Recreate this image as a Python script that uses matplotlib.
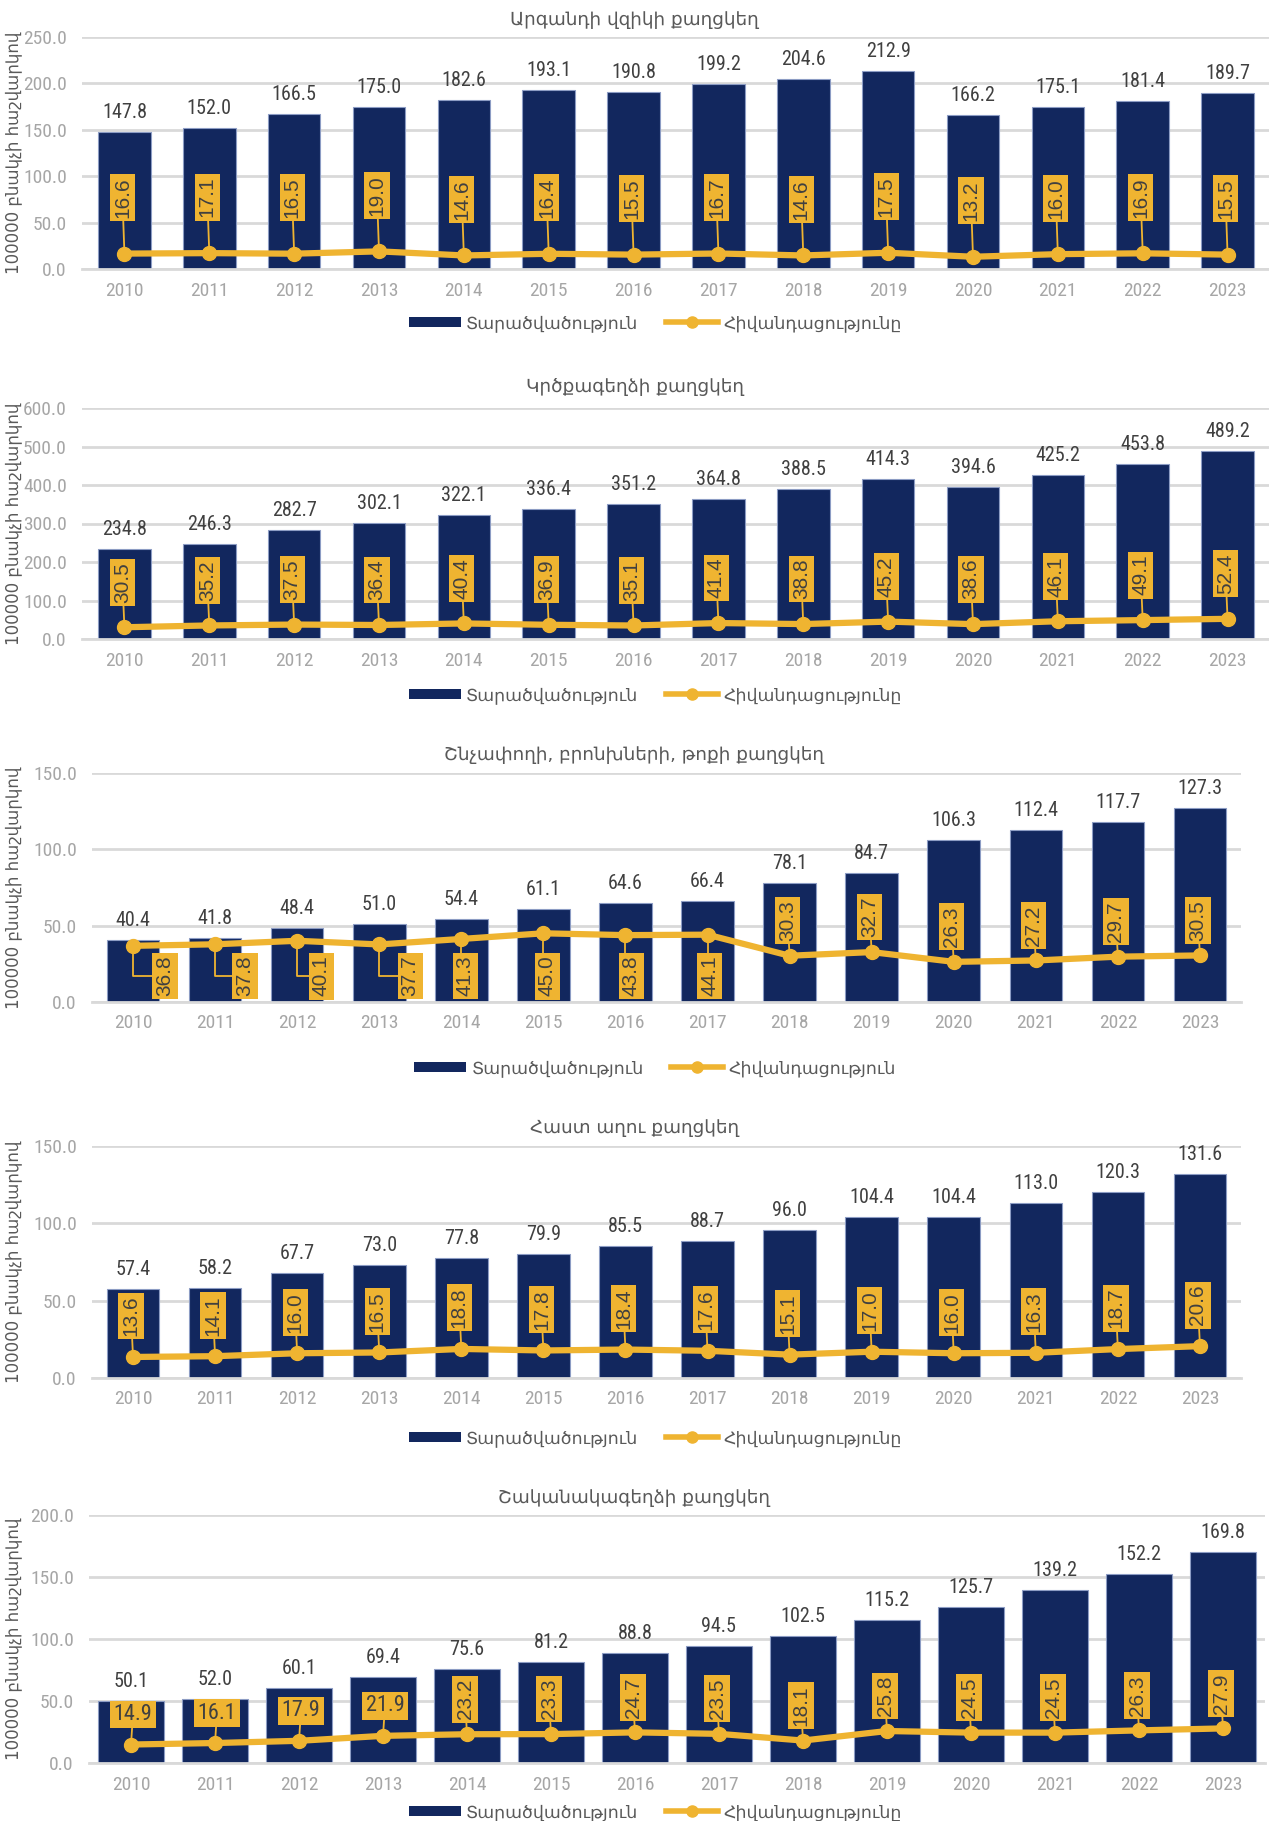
import matplotlib
matplotlib.use("Agg")
import matplotlib.pyplot as plt
from matplotlib import font_manager as fm
from matplotlib.lines import Line2D
from matplotlib.patches import Patch

# ---- data ----
YEARS = [str(y) for y in range(2010, 2024)]

TITLES = [
    "Արգանդի վզիկի քաղցկեղ",
    "Կրծքագեղձի քաղցկեղ",
    "Շնչափողի, բրոնխների, թոքի քաղցկեղ",
    "Հաստ աղու քաղցկեղ",
    "Շականակագեղձի քաղցկեղ",
]
BAR_LABEL = "Տարածվածություն"
LINE_LABELS = ["Հիվանդացությունը", "Հիվանդացությունը", "Հիվանդացություն",
               "Հիվանդացությունը", "Հիվանդացությունը"]
YLABEL = "100000 բնակչի հաշվարկով"

cervix_prev = [147.8, 152.0, 166.5, 175.0, 182.6, 193.1, 190.8, 199.2, 204.6, 212.9, 166.2, 175.1, 181.4, 189.7]
cervix_inc = [16.6, 17.1, 16.5, 19.0, 14.6, 16.4, 15.5, 16.7, 14.6, 17.5, 13.2, 16.0, 16.9, 15.5]

breast_prev = [234.8, 246.3, 282.7, 302.1, 322.1, 336.4, 351.2, 364.8, 388.5, 414.3, 394.6, 425.2, 453.8, 489.2]
breast_inc = [30.5, 35.2, 37.5, 36.4, 40.4, 36.9, 35.1, 41.4, 38.8, 45.2, 38.6, 46.1, 49.1, 52.4]

lung_prev = [40.4, 41.8, 48.4, 51.0, 54.4, 61.1, 64.6, 66.4, 78.1, 84.7, 106.3, 112.4, 117.7, 127.3]
lung_inc = [36.8, 37.8, 40.1, 37.7, 41.3, 45.0, 43.8, 44.1, 30.3, 32.7, 26.3, 27.2, 29.7, 30.5]

colon_prev = [57.4, 58.2, 67.7, 73.0, 77.8, 79.9, 85.5, 88.7, 96.0, 104.4, 104.4, 113.0, 120.3, 131.6]
colon_inc = [13.6, 14.1, 16.0, 16.5, 18.8, 17.8, 18.4, 17.6, 15.1, 17.0, 16.0, 16.3, 18.7, 20.6]

prostate_prev = [50.1, 52.0, 60.1, 69.4, 75.6, 81.2, 88.8, 94.5, 102.5, 115.2, 125.7, 139.2, 152.2, 169.8]
prostate_inc = [14.9, 16.1, 17.9, 21.9, 23.2, 23.3, 24.7, 23.5, 18.1, 25.8, 24.5, 24.5, 26.3, 27.9]

PREV = [cervix_prev, breast_prev, lung_prev, colon_prev, prostate_prev]
INC = [cervix_inc, breast_inc, lung_inc, colon_inc, prostate_inc]
YMAX = [250, 600, 150, 150, 200]

# ---- layout (pixels in a 1269x1821 figure) ----
W, H = 1269, 1821
AX_RECTS = [  # left, top, right, bottom
    (82, 37, 1270, 269),
    (82, 408, 1270, 639),
    (92, 773, 1241, 1002),
    (92, 1146, 1241, 1378),
    (89, 1515, 1265, 1763),
]
TITLE_Y = [20, 387, 755, 1128, 1498]
LEGEND_Y = [323, 695, 1068, 1438, 1812]
BAR_W = [0.62, 0.62, 0.64, 0.64, 0.78]
BOX_DY = [56, 45, 35, 41, 35]

NAVY = "#12275E"
GOLD = "#EFB431"
GRID = "#D9D9D9"
TICK = "#A6A6A6"
DARK = "#404040"
MID = "#595959"

names = {f.name for f in fm.fontManager.ttflist}
NARROW = next((n for n in ["Liberation Sans Narrow", "Roboto Condensed", "Arial Narrow"] if n in names), "Liberation Sans")
BOXFONT = next((n for n in ["Liberation Sans", "Arimo", "Roboto"] if n in names), "DejaVu Sans")
ARM = ["DejaVu Sans"]

plt.rcParams["font.family"] = ["DejaVu Sans"]

fig = plt.figure(figsize=(W / 100, H / 100), dpi=100)

for k in range(5):
    l, t, r, b = AX_RECTS[k]
    ax = fig.add_axes([l / W, 1 - b / H, (r - l) / W, (b - t) / H])
    x = list(range(len(YEARS)))
    prev, inc = PREV[k], INC[k]

    ax.bar(x, prev, width=BAR_W[k], color=NAVY, edgecolor="#8C9CC4", linewidth=0.8, zorder=2)
    ax.plot(x, inc, color=GOLD, lw=4.5, marker="o", ms=10, zorder=4, solid_capstyle="round")

    ax.set_xlim(-0.5, len(YEARS) - 0.5)
    ax.set_ylim(0, YMAX[k])
    ax.set_yticks(range(0, YMAX[k] + 1, 100 if YMAX[k] == 600 else 50))
    ax.yaxis.set_major_formatter(matplotlib.ticker.FormatStrFormatter("%.1f"))
    ax.set_xticks(x)
    ax.set_xticklabels(YEARS)
    ax.grid(axis="y", color=GRID, lw=2, zorder=0)
    ax.set_axisbelow(True)
    for s in ["top", "right", "left"]:
        ax.spines[s].set_visible(False)
    ax.spines["bottom"].set_color(GRID)
    ax.spines["bottom"].set_linewidth(2)
    ax.tick_params(length=0, labelcolor=TICK, labelsize=14)
    ax.tick_params(axis="x", pad=9)
    ax.tick_params(axis="y", pad=11)
    for lab in ax.get_xticklabels() + ax.get_yticklabels():
        lab.set_fontfamily(NARROW)

    ax.set_ylabel(YLABEL, fontsize=12, color=MID, family=ARM)
    ax.yaxis.set_label_coords((22 - l) / (r - l), 0.5)

    fig.text(0.5, 1 - TITLE_Y[k] / H, TITLES[k], ha="center", va="center",
             fontsize=13.2, color=MID, family=ARM)

    # bar value labels
    for i, v in enumerate(prev):
        ax.annotate(f"{v:.1f}", xy=(i, v), xytext=(0, 10), textcoords="offset pixels",
                    ha="center", va="bottom", fontsize=14.5, color=DARK, family=NARROW)

    # line value labels
    for i, v in enumerate(inc):
        dx, dy = -2, BOX_DY[k]
        rot = 90
        conn = "arc3"
        if k == 2 and i < 8:
            target = ax.transData.transform((0, 17))[1]
            dy = target - ax.transData.transform((0, v))[1]
            dx = [32, 30, 24, 31, 4, 4, 6, 2][i]
            conn = "angle,angleA=0,angleB=90,rad=0"
        if k == 4 and i < 4:
            rot = 0
            dy = 30
            dx = 2
        ax.annotate(f"{v:.1f}", xy=(i, v), xytext=(dx, dy), textcoords="offset pixels",
                    ha="center", va="center", rotation=rot, fontsize=15 if rot else 16,
                    color=DARK, family=BOXFONT if rot else NARROW, zorder=5,
                    bbox=dict(boxstyle="square,pad=0.15", fc=GOLD, ec="none"),
                    arrowprops=dict(arrowstyle="-", color=GOLD, lw=1.3, shrinkA=0, shrinkB=0,
                                    connectionstyle=conn))

    handles = [Patch(facecolor=NAVY, edgecolor="none"),
               Line2D([], [], color=GOLD, lw=4, marker="o", ms=8)]
    leg = ax.legend(handles, [BAR_LABEL, LINE_LABELS[k]], loc="center",
                    bbox_to_anchor=(655 / W, 1 - LEGEND_Y[k] / H), bbox_transform=fig.transFigure,
                    ncol=2, frameon=False, handlelength=3.0, handleheight=0.55,
                    handletextpad=0.3, columnspacing=1.6, prop={"family": ARM, "size": 12.5})
    for txt in leg.get_texts():
        txt.set_color(MID)

fig.savefig("out.png", dpi=100)
